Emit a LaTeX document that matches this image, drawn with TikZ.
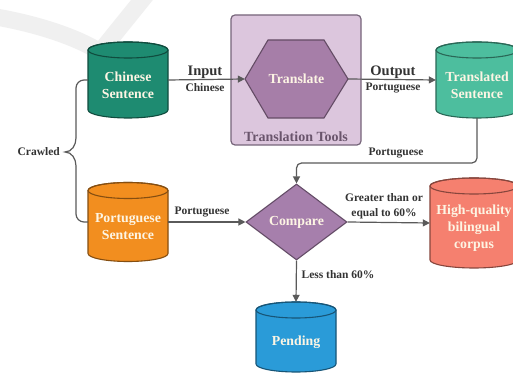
\documentclass[tikz,border=0pt]{standalone}
\usepackage{fontspec}
\setmainfont{Liberation Serif}
\usetikzlibrary{shapes.geometric,arrows.meta,calc}
\definecolor{wm}{HTML}{F0F0F0}
\definecolor{lnc}{HTML}{5A5A5A}
\definecolor{txtc}{HTML}{333333}
\definecolor{cream}{HTML}{FDF5E4}
\definecolor{cchin}{HTML}{1E8B71}
\definecolor{ctrans}{HTML}{4DBE9E}
\definecolor{cport}{HTML}{F28E1F}
\definecolor{chigh}{HTML}{F5806F}
\definecolor{cpend}{HTML}{2A9BD8}
\definecolor{chex}{HTML}{A67EA8}
\definecolor{cbox}{HTML}{DCC6DD}
\definecolor{cboxd}{HTML}{76657A}
\definecolor{cdia}{HTML}{A67FAC}
\definecolor{ctool}{HTML}{6A556C}
\tikzset{
  conn/.style={draw=lnc, line width=1.2pt},
  arr/.style={conn, -{Triangle[length=7pt,width=7pt]}},
  lbl/.style={text=txtc, font=\bfseries\fontsize{11.5}{15}\selectfont, align=center, inner sep=0pt},
  biglbl/.style={text=txtc, font=\bfseries\fontsize{14.5}{16}\selectfont, inner sep=0pt},
  ntext/.style={text=cream, font=\bfseries\fontsize{13.8}{17}\selectfont, align=center, inner sep=0pt},
  anch/.style={draw=none, inner sep=0pt},
}
% name, cx, cy, w, h, colour, text
\newcommand{\mycyl}[7]{%
  \pgfmathsetmacro\cxl{#2-#4/2}\pgfmathsetmacro\cxr{#2+#4/2}%
  \pgfmathsetmacro\cyt{#3+#5/2-8}\pgfmathsetmacro\cyb{#3-#5/2+8}%
  \pgfmathsetmacro\crx{#4/2}%
  \filldraw[fill=#6, draw=#6!55!black, line width=1.1pt] (\cxl,\cyt) -- (\cxl,\cyb)
     arc[start angle=180,end angle=360,x radius=\crx pt,y radius=8pt] -- (\cxr,\cyt)
     arc[start angle=0,end angle=180,x radius=\crx pt,y radius=8pt] -- cycle;
  \draw[draw=#6!55!black, line width=1.1pt] (#2,\cyt) ellipse[x radius=\crx pt, y radius=8pt];
  \node[anch, minimum width=#4 pt, minimum height=#5 pt] (#1) at (#2,#3) {};
  \node[ntext] (#1-t) at (#2,#3-5) {#7};
}
\begin{document}
\begin{tikzpicture}[x=1pt,y=1pt]
\useasboundingbox (0,0) rectangle (513,374);
\fill[white] (0,0) rectangle (513,374);
% watermark swoosh
\draw[wm, line width=17pt, line join=round, line cap=round] (-10,358) .. controls (40,350) and (80,335) .. (100,322) -- (150,384);

% translation tools box
\node[draw=cboxd, fill=cbox, line width=1.2pt, rounded corners=4pt, minimum width=130pt, minimum height=130pt] (tools) at (296,294) {};
\node[text=ctool, font=\bfseries\fontsize{14}{16}\selectfont, inner sep=0pt] (toolslbl) at (296,237) {Translation Tools};
% hexagon
\filldraw[fill=chex, draw=chex!60!black, line width=1.1pt] (245,295) -- (268,334) -- (324,334) -- (348,295) -- (324,256) -- (268,256) -- cycle;
\node[anch, minimum width=103pt, minimum height=78pt] (hex) at (296.5,295) {};
\node[ntext] (hex-t) at (296.5,295) {Translate};

% cylinders
\mycyl{chin}{128}{294}{80}{76}{cchin}{Chinese\\Sentence}
\mycyl{trans}{477}{294}{82}{76}{ctrans}{Translated\\Sentence}
\mycyl{port}{128}{152}{80}{79}{cport}{Portuguese\\Sentence}
\mycyl{high}{474}{151}{88}{90}{chigh}{High-quality\\bilingual\\corpus}
\mycyl{pend}{296}{37}{80}{70}{cpend}{Pending}

% compare diamond
\node[diamond, fill=cdia, draw=cdia!60!black, line width=1.1pt, minimum width=101pt, minimum height=76pt, inner sep=0pt, ntext] (cmp) at (296.5,152) {Compare};

% connectors
\draw[arr] (chin.east) -- (hex.west);
\draw[arr] (hex.east) -- (trans.west);
\draw[arr, rounded corners=5pt] (trans.south) |- (cmp.north |- 0,211) -- (cmp.north);
\draw[arr] (port.east) -- (cmp.west);
\draw[arr] (cmp.east) -- (high.west);
\draw[arr] (cmp.south) -- (pend.north);

% crawled brace
\coordinate (tip) at (65,222);
\draw[conn, rounded corners=8pt] (chin.west) -- (76,294) -- (76,236);
\draw[conn] (76,236) to[out=-90,in=0] (tip) to[out=0,in=90] (76,208);
\draw[conn, rounded corners=8pt] (76,208) -- (76,152) -- (port.west);
\node[lbl, anchor=east] (crawl) at ([xshift=-5pt]tip) {Crawled};

% labels
\node[biglbl] (inl) at (205,302) {Input};
\node[lbl] (inl2) at (205,286) {Chinese};
\node[biglbl] (outl) at (393,302) {Output};
\node[lbl] (outl2) at (393,286) {Portuguese};
\node[lbl] (tpl) at (396,221) {Portuguese};
\node[lbl] (ppl) at (202,162) {Portuguese};
\node[lbl] (gtl) at (384,168) {Greater than or\\equal to 60\%};
\node[lbl] (ltl) at (338,99) {Less than 60\%};
\end{tikzpicture}
\end{document}
